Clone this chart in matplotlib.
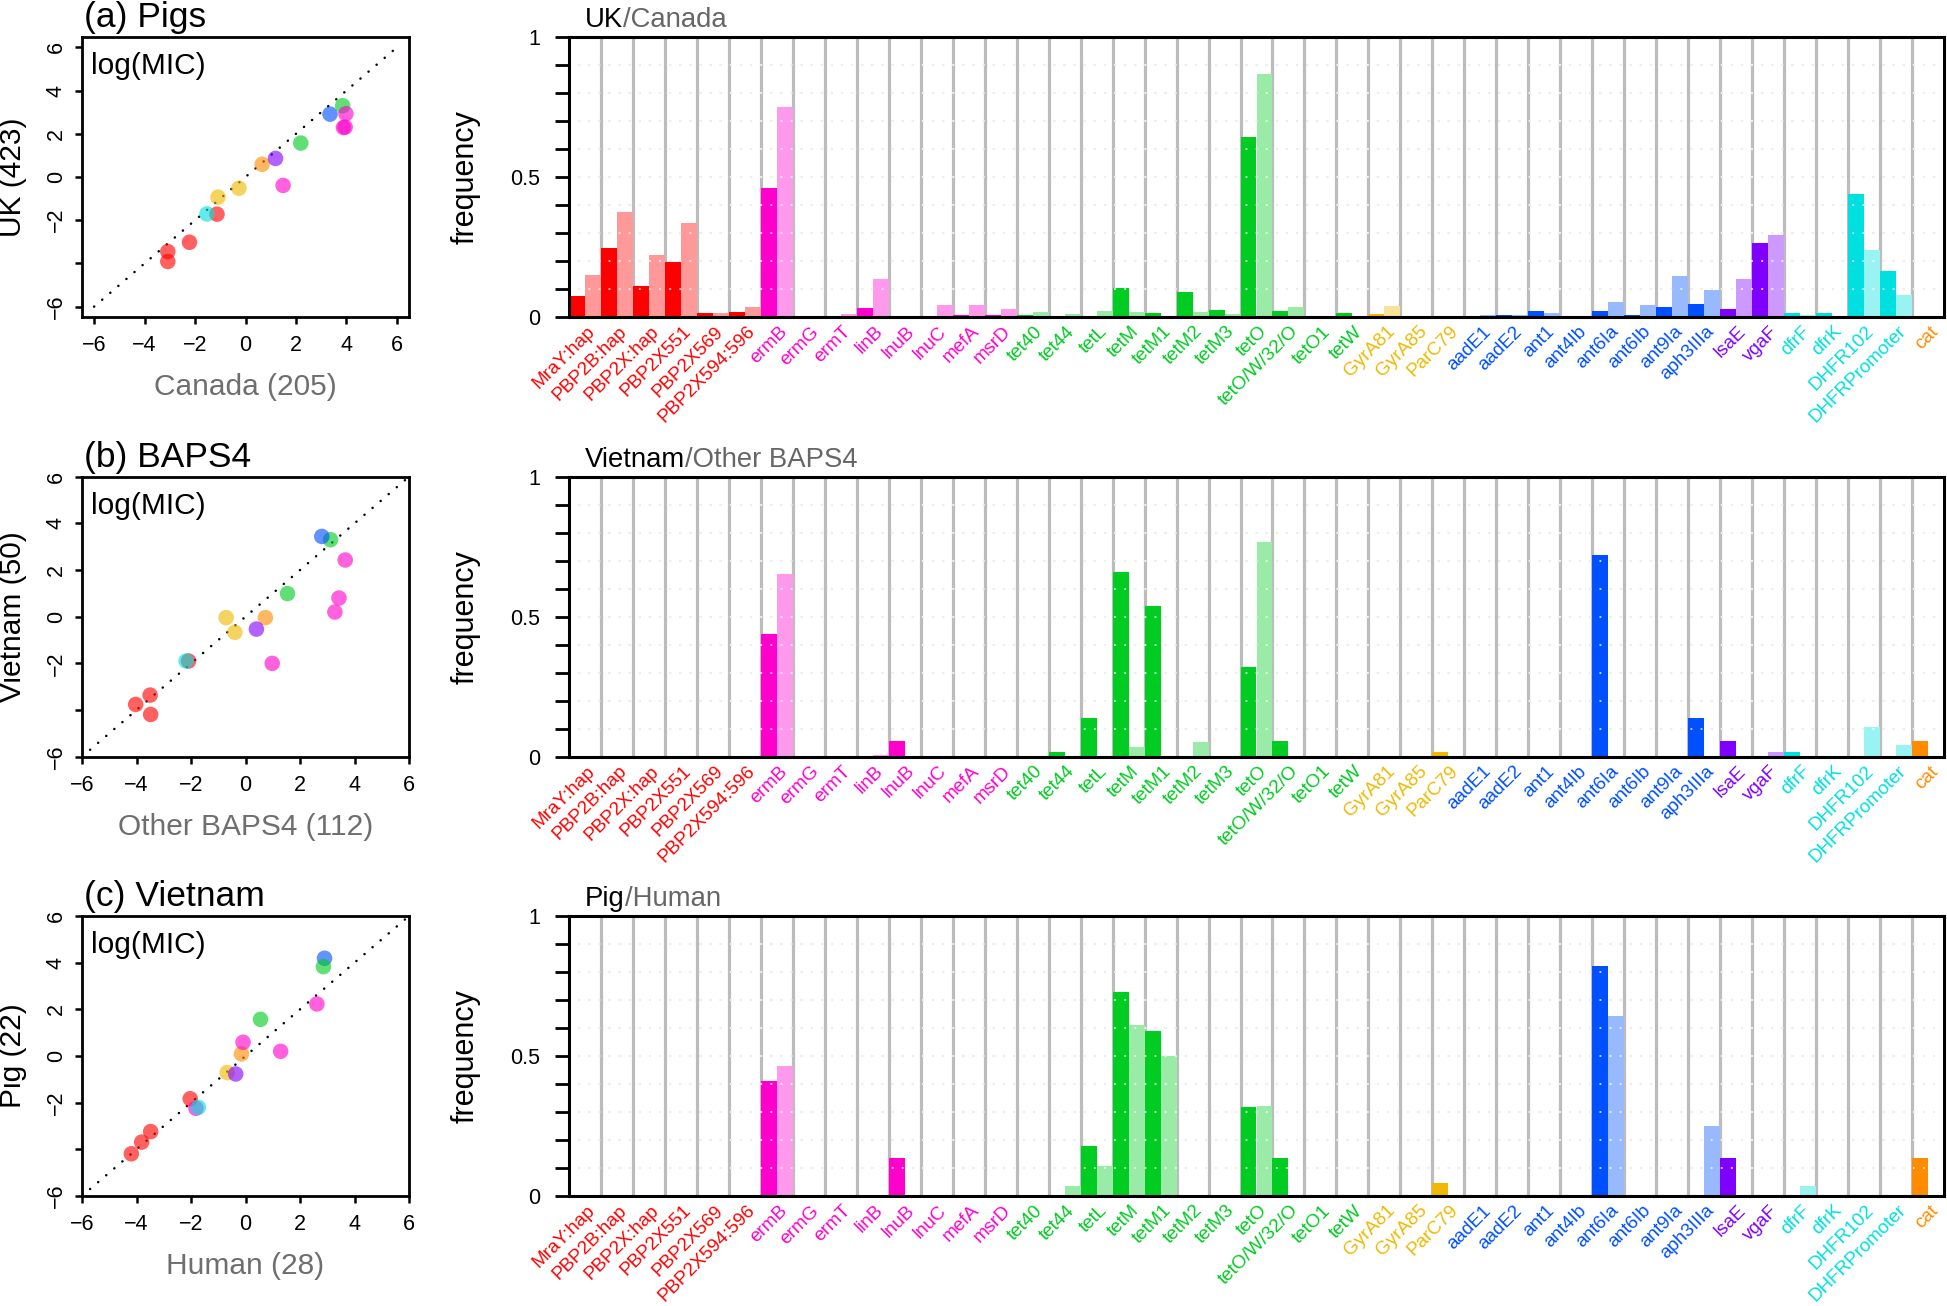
import numpy as np
import matplotlib
matplotlib.use('Agg')
import matplotlib.pyplot as plt
from matplotlib.colors import to_rgb
from matplotlib.transforms import blended_transform_factory

plt.rcParams['font.family'] = ['Liberation Sans', 'DejaVu Sans']

# ---------------- data ----------------
genes = ['MraY:hap', 'PBP2B:hap', 'PBP2X:hap', 'PBP2X551', 'PBP2X569', 'PBP2X594:596',
         'ermB', 'ermG', 'ermT', 'linB', 'lnuB', 'lnuC', 'mefA', 'msrD',
         'tet40', 'tet44', 'tetL', 'tetM', 'tetM1', 'tetM2', 'tetM3', 'tetO', 'tetO/W/32/O',
         'tetO1', 'tetW', 'GyrA81', 'GyrA85', 'ParC79',
         'aadE1', 'aadE2', 'ant1', 'ant4Ib', 'ant6Ia', 'ant6Ib', 'ant9Ia', 'aph3IIIa',
         'lsaE', 'vgaF', 'dfrF', 'dfrK', 'DHFR102', 'DHFRPromoter', 'cat']
gene_class = (['pen'] * 6 + ['mac'] * 8 + ['tet'] * 11 + ['fq'] * 3 + ['ami'] * 8
              + ['lin'] * 2 + ['tmp'] * 4 + ['chl'])

class_colors = {'pen': '#FF0000', 'mac': '#FF00CC', 'tet': '#00CC22', 'fq': '#F0B800',
                'ami': '#0050FF', 'lin': '#8000FF', 'tmp': '#00E0E0', 'chl': '#FF8C00'}

# (a) UK (dark) / Canada (light)
uk = [0.074, 0.245, 0.112, 0.198, 0.016, 0.017, 0.46, 0, 0, 0.031, 0, 0, 0.006, 0.006,
      0.006, 0, 0, 0.103, 0.013, 0.09, 0.024, 0.642, 0.023, 0, 0.016, 0.01, 0, 0,
      0, 0.006, 0.02, 0, 0.02, 0.006, 0.035, 0.045, 0.027, 0.266, 0.016, 0.016, 0.439, 0.163, 0]
canada = [0.149, 0.375, 0.22, 0.335, 0.013, 0.035, 0.75, 0, 0.01, 0.135, 0, 0.042, 0.042, 0.027,
          0.019, 0.01, 0.023, 0.019, 0, 0.019, 0.01, 0.869, 0.035, 0, 0, 0.038, 0, 0,
          0.008, 0.008, 0.013, 0, 0.052, 0.042, 0.146, 0.095, 0.135, 0.292, 0.008, 0, 0.239, 0.078, 0]
# (b) Vietnam (dark) / Other BAPS4 (light)
vietnam = [0, 0, 0, 0, 0, 0, 0.439, 0, 0, 0, 0.057, 0, 0, 0,
           0, 0.018, 0.138, 0.659, 0.539, 0, 0, 0.319, 0.057, 0, 0, 0, 0, 0.018,
           0, 0, 0, 0, 0.72, 0, 0, 0.138, 0.057, 0, 0.018, 0, 0, 0, 0.057]
other_baps4 = [0, 0, 0, 0, 0, 0, 0.652, 0, 0, 0.006, 0, 0, 0, 0,
               0, 0, 0, 0.033, 0, 0.051, 0, 0.768, 0, 0, 0, 0, 0, 0,
               0, 0, 0, 0, 0, 0, 0, 0, 0, 0.018, 0, 0, 0.105, 0.043, 0]
# (c) Pig (dark) / Human (light)
pig = [0, 0, 0, 0, 0, 0, 0.41, 0, 0, 0, 0.136, 0, 0, 0,
       0, 0, 0.18, 0.728, 0.591, 0, 0, 0.319, 0.136, 0, 0, 0, 0, 0.045,
       0, 0, 0, 0, 0.82, 0, 0, 0, 0.136, 0, 0, 0, 0, 0, 0.136]
human = [0, 0, 0, 0, 0, 0, 0.465, 0, 0, 0, 0, 0, 0, 0,
         0, 0.036, 0.107, 0.609, 0.501, 0, 0, 0.322, 0, 0, 0, 0, 0, 0,
         0, 0, 0, 0, 0.644, 0, 0, 0.25, 0, 0, 0.036, 0, 0, 0, 0]

# scatter log(MIC) data
a_cls = ['pen', 'pen', 'pen', 'pen', 'tmp', 'fq', 'fq', 'chl', 'lin', 'mac', 'green', 'ami', 'green',
         'mac', 'mac', 'mac']
a_x = [-3.08, -3.08, -2.22, -1.13, -1.53, -1.09, -0.26, 0.66, 1.19, 1.49, 2.19, 3.35, 3.85, 3.98, 3.95, 3.88]
a_y = [-3.45, -3.91, -3.02, -1.72, -1.71, -0.93, -0.52, 0.59, 0.86, -0.39, 1.57, 2.91, 3.30, 2.93, 2.31, 2.29]

b_cls = ['pen', 'pen', 'pen', 'pen', 'tmp', 'fq', 'fq', 'chl', 'lin', 'mac', 'mac', 'mac', 'mac',
         'green', 'green', 'ami']
b_x = [-4.03, -3.5, -3.48, -2.09, -2.18, -0.71, -0.39, 0.73, 0.4, 0.98, 3.28, 3.43, 3.66, 1.54, 3.12, 2.8]
b_y = [-3.76, -3.36, -4.19, -1.9, -1.9, -0.04, -0.67, -0.04, -0.53, -2.0, 0.2, 0.8, 2.43, 0.99, 3.3, 3.44]

c_cls = ['pen', 'pen', 'pen', 'pen', 'mac', 'tmp', 'fq', 'lin', 'chl', 'mac', 'mac', 'mac',
         'green', 'ami', 'green']
c_x = [-4.19, -3.81, -3.48, -2.03, -1.82, -1.73, -0.67, -0.36, -0.15, -0.09, 1.29, 2.62, 0.55, 2.9, 2.86]
c_y = [-4.19, -3.69, -3.24, -1.83, -2.24, -2.2, -0.71, -0.77, 0.09, 0.59, 0.2, 2.23, 1.57, 4.19, 3.83]

# ---------------- helpers ----------------
W, H = 1947, 1306
fig = plt.figure(figsize=(W / 100, H / 100), dpi=100)


def add_ax(l, t, r, b):
    return fig.add_axes([l / W, 1 - b / H, (r - l) / W, (b - t) / H])


def lighten(c, f=0.4):
    r = np.array(to_rgb(c))
    return tuple(r * f + (1 - f))


def pcolor(c):
    return class_colors['tet'] if c == 'green' else class_colors[c]


def scatter_panel(ax, xs, ys, cls, lim, title, xlabel, ylabel, top, bottom):
    ax.plot([-6, 6], [-6, 6], color='black', lw=1.8, ls=(0, (0.05, 4.2)),
            dash_capstyle='round', zorder=1)
    ax.scatter(xs, ys, s=125, c=[pcolor(c) for c in cls], alpha=0.62,
               edgecolors='none', zorder=2)
    ax.set_xlim(lim)
    ax.set_ylim(lim)
    ax.set_xticks(range(-6, 7, 2))
    ax.set_yticks(range(-6, 7, 2))
    ax.set_xticklabels(['\u22126', '\u22124', '\u22122', '0', '2', '4', '6'])
    ax.set_yticklabels(['\u22126', '', '\u22122', '0', '2', '4', '6'], rotation=90, va='center')
    ax.tick_params(axis='x', direction='out', length=5, width=1.8, labelsize=15.5, pad=8)
    ax.tick_params(axis='y', direction='out', length=5, width=1.8, labelsize=15.5, pad=6)
    for sp in ax.spines.values():
        sp.set_linewidth(2)
    hpx = bottom - top
    ax.text(9 / 327, 1 - 37 / hpx, 'log(MIC)', transform=ax.transAxes, fontsize=21.5,
            va='baseline', ha='left')
    ax.text(2 / 327, 1 + 10 / hpx, title, transform=ax.transAxes, fontsize=25.5,
            va='baseline', ha='left')
    ax.text(0.5, -78 / hpx, xlabel, transform=ax.transAxes, fontsize=21.5,
            va='baseline', ha='center', color='#6e6e6e')
    fig.text(13 / W, 1 - (top + bottom) / 2 / H, ylabel, rotation=90, fontsize=21.5,
             ha='center', va='center')


def bar_panel(ax, dark, light, t1, t2, top, bottom):
    n = len(genes)
    x = np.arange(n)
    for i in range(1, n):
        ax.axvline(i, color='#bcbcbc', lw=2.3, zorder=1)
    for yv in np.arange(0.1, 0.95, 0.1):
        ax.axhline(yv, color='#c8c8c8', lw=1.6, ls=(0, (0.05, 4.5)),
                   dash_capstyle='round', zorder=1.5)
        ax.axhline(yv, color='white', alpha=0.75, lw=1.6, ls=(0, (0.05, 4.5)),
                   dash_capstyle='round', zorder=3)
    ax.bar(x, dark, width=0.5, align='edge',
           color=[class_colors[c] for c in gene_class], lw=0, zorder=2)
    ax.bar(x + 0.5, light, width=0.5, align='edge',
           color=[lighten(class_colors[c]) for c in gene_class], lw=0, zorder=2)
    ax.set_xlim(0, n)
    ax.set_ylim(0, 1)
    ax.set_xticks([])
    ax.set_yticks(np.round(np.arange(0, 1.01, 0.1), 1))
    ax.set_yticklabels(['0', '', '', '', '', '0.5', '', '', '', '', '1'])
    ax.tick_params(axis='y', direction='out', length=10, width=2, labelsize=15.5, pad=11)
    for sp in ax.spines.values():
        sp.set_linewidth(2.2)
        sp.set_zorder(4)
    hpx = bottom - top
    trans = blended_transform_factory(ax.transData, ax.transAxes)
    for i, (g, c) in enumerate(zip(genes, gene_class)):
        ax.text(i + 0.55, -6 / hpx, g, transform=trans, rotation=45, rotation_mode='anchor',
                ha='right', va='top', fontsize=13.6, color=class_colors[c])
    ta = ax.text(16 / 1375, 1 + 4 / hpx, t1, transform=ax.transAxes, fontsize=19.8,
                 ha='left', va='bottom')
    ax.annotate(t2, xy=(1, 0), xycoords=ta, fontsize=19.8, ha='left', va='bottom',
                color='#666666')
    fig.text(466 / W, 1 - (top + bottom) / 2 / H, 'frequency', rotation=90, fontsize=22,
             ha='center', va='center')


rows = [(37, 317), (476.7, 756.7), (916, 1196)]

ax1 = add_ax(82, rows[0][0], 409, rows[0][1])
scatter_panel(ax1, a_x, a_y, a_cls, (-6.48, 6.48), '(a) Pigs', 'Canada (205)', 'UK (423)', *rows[0])
ax2 = add_ax(82, rows[1][0], 409, rows[1][1])
scatter_panel(ax2, b_x, b_y, b_cls, (-6, 6), '(b) BAPS4', 'Other BAPS4 (112)', 'Vietnam (50)', *rows[1])
ax3 = add_ax(82, rows[2][0], 409, rows[2][1])
scatter_panel(ax3, c_x, c_y, c_cls, (-6, 6), '(c) Vietnam', 'Human (28)', 'Pig (22)', *rows[2])

bx1 = add_ax(569, rows[0][0], 1944, rows[0][1])
bar_panel(bx1, uk, canada, 'UK', '/Canada', *rows[0])
bx2 = add_ax(569, rows[1][0], 1944, rows[1][1])
bar_panel(bx2, vietnam, other_baps4, 'Vietnam', '/Other BAPS4', *rows[1])
bx3 = add_ax(569, rows[2][0], 1944, rows[2][1])
bar_panel(bx3, pig, human, 'Pig', '/Human', *rows[2])

fig.savefig('out.png', dpi=100)
